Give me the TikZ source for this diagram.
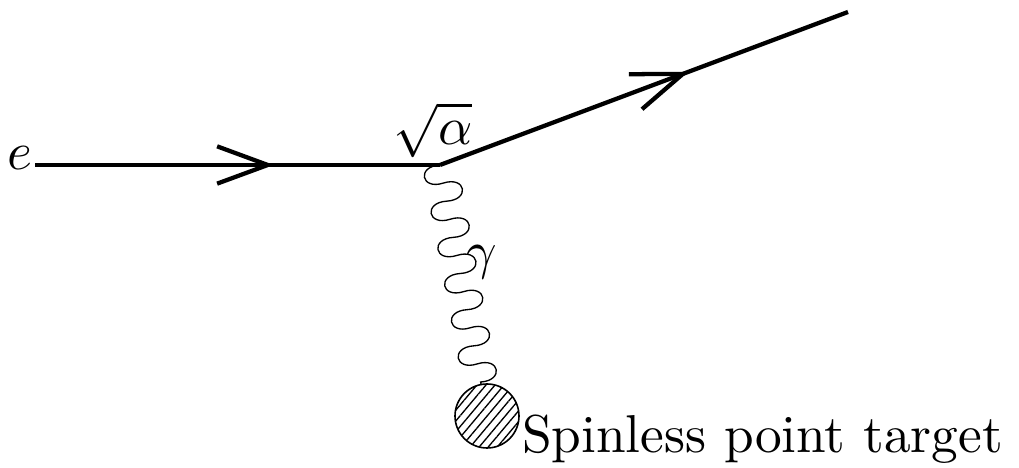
\documentclass[tikz,border=0pt]{standalone}
\usetikzlibrary{decorations.pathmorphing,decorations.markings,arrows.meta,patterns.meta}
\pgfdeclaredecoration{photonwave}{wave}{
  \state{wave}[width=\pgfdecorationsegmentlength,
               switch if less than=\pgfdecorationsegmentlength to final]{
    \pgfpathcurveto
      {\pgfpoint{-0.08\pgfdecorationsegmentlength}{-1.333\pgfdecorationsegmentamplitude}}
      {\pgfpoint{0.58\pgfdecorationsegmentlength}{-1.333\pgfdecorationsegmentamplitude}}
      {\pgfpoint{0.5\pgfdecorationsegmentlength}{0pt}}
    \pgfpathcurveto
      {\pgfpoint{0.42\pgfdecorationsegmentlength}{1.333\pgfdecorationsegmentamplitude}}
      {\pgfpoint{1.08\pgfdecorationsegmentlength}{1.333\pgfdecorationsegmentamplitude}}
      {\pgfpoint{\pgfdecorationsegmentlength}{0pt}}
  }
  \state{final}{\pgfpathlineto{\pgfpointdecoratedpathlast}}
}
\begin{document}
\begin{tikzpicture}[x=0.1875pt,y=-0.1875pt,
  fermion/.style={line width=0.8pt,
    postaction={decorate},
    decoration={markings,mark=at position #1 with {\arrow{Straight Barb[length=9.5pt,width=7pt,line width=0.8pt]}}}},
  photon/.style={line width=0.25pt,decorate,
    decoration={photonwave,amplitude=3.3pt,segment length=6.9pt}},
  blobstyle/.style={circle,draw,line width=0.3pt,minimum size=12pt,inner sep=0pt,
    pattern={Lines[angle=50,distance=1.3pt,line width=0.25pt]}},
  lbl/.style={inner sep=0pt}]
\useasboundingbox (0,0) rectangle (1019,468);
\node[lbl] (e) at (20,158) {$e$};
\coordinate (in) at (35,165);
\coordinate (v) at (440,165);
\coordinate (out) at (848,12);
\node[blobstyle] (blob) at (487,416) {};
\draw[fermion=0.59] (in) -- (v);
\draw[fermion=0.61] (v) -- (out);
\draw[photon] (v) -- (blob);
\node[lbl] (alpha) at (433,130) {$\sqrt{\alpha}$};
\node[lbl] (gamma) at (482,262) {$\gamma$};
\node[lbl,anchor=base west] (target) at (521,453) {Spinless point target};
\end{tikzpicture}
\end{document}
